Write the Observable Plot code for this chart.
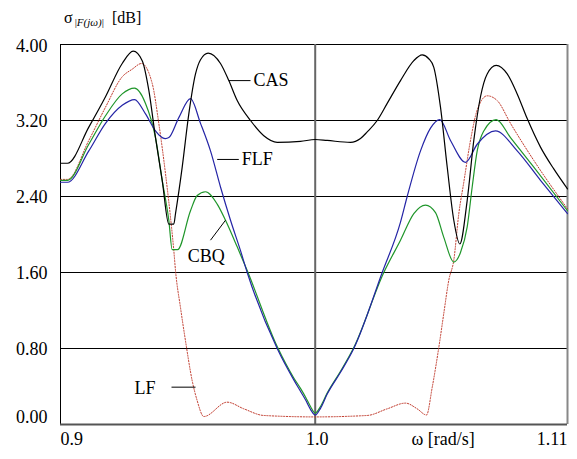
<!DOCTYPE html>
<html><head><meta charset="utf-8">
<script src="https://cdn.jsdelivr.net/npm/d3@7"></script>
<script src="https://cdn.jsdelivr.net/npm/@observablehq/plot@0.6"></script>
<style>
body{margin:0;background:#fff}
#wrap{position:relative;width:577px;height:459px;font-family:"Liberation Serif","Times New Roman","DejaVu Serif",serif}
#wrap svg, #wrap svg text{font-family:"Liberation Serif","Times New Roman","DejaVu Serif",serif !important}
#title{position:absolute;left:64px;top:10px;font-size:16px;white-space:nowrap;color:#000;z-index:2;line-height:1}
#title .sub{font-size:11px;position:relative;top:3px;margin-left:2px;margin-right:4px}
</style>
</head><body>
<div id="wrap"><div id="title">σ<span class="sub">|<i>F(jω)</i>|</span> [dB]</div></div>
<script>
// x: ω [rad/s] (log axis), y: σ|F(jω)| [dB]
const xDomain = [0.9, 1.11];
const yTicks = [0, 0.8, 1.6, 2.4, 3.2, 4.0];
const xTickVals = [0.9, 1.0, 1.11];
const xTickLabels = ["0.9", "1.0", "1.11"];

const CAS = [[0.9,2.75],[0.90261,2.75],[0.91060,3.13],[0.91691,3.45],[0.92327,3.80],[0.92748,3.93],[0.93094,3.83],[0.93348,3.52],[0.93607,3.02],[0.93867,2.57],[0.94124,2.11],[0.94319,2.11],[0.94385,2.22],[0.94647,2.71],[0.94906,3.27],[0.95169,3.69],[0.95366,3.84],[0.95670,3.91],[0.96158,3.80],[0.96489,3.62],[0.96825,3.41],[0.97359,3.20],[0.97896,3.04],[0.98440,2.97],[0.99393,2.98],[1.0,3.00],[1.00497,2.99],[1.01471,2.97],[1.01891,3.01],[1.02174,3.08],[1.02597,3.20],[1.03023,3.38],[1.03591,3.62],[1.04163,3.83],[1.04525,3.89],[1.04811,3.85],[1.05028,3.76],[1.05319,3.34],[1.05612,2.71],[1.05900,2.15],[1.06164,1.90],[1.06489,2.36],[1.06780,2.99],[1.07076,3.45],[1.07373,3.69],[1.07774,3.78],[1.08266,3.69],[1.08714,3.48],[1.09165,3.22],[1.09767,2.92],[1.10372,2.69],[1.11,2.48]];

const FLF = [[0.9,2.55],[0.90261,2.55],[0.91060,2.88],[0.91691,3.17],[0.92327,3.36],[0.92798,3.42],[0.93221,3.27],[0.93607,3.09],[0.93867,3.02],[0.93995,3.01],[0.94124,3.02],[0.94514,3.23],[0.94972,3.43],[0.95366,3.17],[0.95761,2.88],[0.96158,2.50],[0.96557,2.15],[0.96957,1.83],[0.97226,1.60],[0.98440,0.80],[0.99118,0.47],[0.99393,0.35],[0.99599,0.26],[0.99805,0.16],[1.0,0.10],[1.00219,0.17],[1.00497,0.32],[1.01052,0.55],[1.01609,0.80],[1.02810,1.60],[1.03591,2.13],[1.03878,2.40],[1.04452,2.88],[1.04885,3.12],[1.05289,3.21],[1.05756,2.99],[1.06414,2.76],[1.06930,2.95],[1.07742,3.09],[1.08714,2.88],[1.09767,2.57],[1.11,2.22]];

const CBQ = [[0.9,2.57],[0.90261,2.57],[0.91060,2.95],[0.91691,3.25],[0.92327,3.48],[0.92798,3.54],[0.93221,3.38],[0.93607,3.02],[0.93867,2.57],[0.94124,2.15],[0.94256,1.84],[0.94463,1.84],[0.94972,2.25],[0.95236,2.41],[0.95563,2.45],[0.96027,2.32],[0.96357,2.15],[0.96825,1.87],[0.97226,1.62],[0.98440,0.82],[0.99118,0.49],[0.99393,0.38],[0.99599,0.29],[0.99805,0.19],[1.0,0.12],[1.00219,0.19],[1.00497,0.33],[1.01052,0.56],[1.01609,0.81],[1.02878,1.60],[1.03591,1.94],[1.04163,2.22],[1.04668,2.31],[1.05102,2.23],[1.05463,1.97],[1.05900,1.71],[1.06194,1.81],[1.06489,2.08],[1.06709,2.50],[1.06930,2.88],[1.07223,3.09],[1.07774,3.21],[1.08413,3.02],[1.09463,2.71],[1.11,2.25]];

const LF = [[0.9,2.58],[0.90261,2.58],[0.91060,2.99],[0.91691,3.34],[0.92327,3.66],[0.92709,3.74],[0.93067,3.80],[0.93480,3.59],[0.93735,3.17],[0.93995,2.64],[0.94190,2.18],[0.94319,1.83],[0.94385,1.62],[0.94580,1.23],[0.94776,0.88],[0.95039,0.46],[0.95236,0.25],[0.95496,0.084],[0.96425,0.235],[0.97090,0.165],[0.97896,0.095],[1.0,0.08],[1.02174,0.095],[1.03023,0.165],[1.03806,0.225],[1.04309,0.165],[1.04711,0.10],[1.04958,0.39],[1.05245,0.81],[1.05463,1.17],[1.05682,1.52],[1.05900,1.73],[1.06120,2.22],[1.06339,2.55],[1.06634,2.99],[1.06930,3.31],[1.07373,3.46],[1.07818,3.41],[1.08413,3.17],[1.09463,2.78],[1.11,2.27]];

// curve labels and leader lines
const labelNames = ["CAS", "FLF", "CBQ", "LF"];
const labelAt = [[0.97359, 3.62], [0.96889, 2.79], [0.95595, 1.77], [0.93607, 0.38]];
const leaders = [[0.96489, 3.62, 0.97359, 3.62], [0.96027, 2.79, 0.96889, 2.79], [0.95761, 1.94, 0.96357, 2.15], [0.94229, 0.393, 0.95169, 0.393]];

const rows = a => a.map(([w, v]) => ({w, v}));
const F = "'Liberation Serif', 'Times New Roman', 'DejaVu Serif', serif";
const fs = 18;

const chart = Plot.plot({
  width: 577, height: 459,
  marginLeft: 60, marginRight: 10, marginTop: 44, marginBottom: 35,
  x: {type: "log", domain: xDomain, axis: null},
  y: {domain: [0, 4], axis: null},
  style: {fontFamily: F, fontSize: fs + "px", background: "#fff", color: "#000"},
  marks: [
    Plot.ruleY(yTicks.filter(d => d > 0), {stroke: "#000", strokeWidth: 1}),
    Plot.ruleX([xTickVals[1]], {stroke: "#666", strokeWidth: 2}),
    Plot.ruleX([xDomain[1]], {stroke: "#888", strokeWidth: 2}),
    Plot.ruleX([xDomain[0]], {stroke: "#000", strokeWidth: 1}),
    Plot.ruleY([0], {stroke: "#555", strokeWidth: 2}),
    Plot.line(rows(LF), {x: "w", y: "v", stroke: "#c0392b", strokeWidth: 1, strokeDasharray: "1.2,1.6", curve: "monotone-x"}),
    Plot.line(rows(CBQ), {x: "w", y: "v", stroke: "#1f962a", strokeWidth: 1.2, curve: "monotone-x"}),
    Plot.line(rows(FLF), {x: "w", y: "v", stroke: "#2424a6", strokeWidth: 1.2, curve: "monotone-x"}),
    Plot.line(rows(CAS), {x: "w", y: "v", stroke: "#000", strokeWidth: 1.2, curve: "monotone-x"}),
    Plot.link(leaders, {x1: d => d[0], y1: d => d[1], x2: d => d[2], y2: d => d[3], stroke: "#000", strokeWidth: 1}),
    Plot.text([0, 1], {x: i => labelAt[i][0], y: i => labelAt[i][1], text: i => labelNames[i], textAnchor: "start", dx: 3, fontSize: fs, fill: "#000"}),
    Plot.text([2], {x: i => labelAt[i][0], y: i => labelAt[i][1], text: i => labelNames[i], textAnchor: "middle", fontSize: fs, fill: "#000"}),
    Plot.text([3], {x: i => labelAt[i][0], y: i => labelAt[i][1], text: i => labelNames[i], textAnchor: "end", fontSize: fs, fill: "#000"}),
    // y tick labels
    Plot.text(yTicks.filter(d => d > 0 && d < 4), {y: d => d, frameAnchor: "left", textAnchor: "end", dx: -13, dy: 1, text: d => d.toFixed(2), fontSize: fs, fill: "#000"}),
    Plot.text([4], {y: d => d, frameAnchor: "left", textAnchor: "end", dx: -13, dy: 2, text: d => d.toFixed(2), fontSize: fs, fill: "#000"}),
    Plot.text([0], {y: d => d, frameAnchor: "left", textAnchor: "end", dx: -13, dy: -7, text: d => d.toFixed(2), fontSize: fs, fill: "#000"}),
    // x tick labels
    Plot.text([0], {x: i => xTickVals[i], frameAnchor: "bottom", dy: 20, textAnchor: "start", text: i => xTickLabels[i], fontSize: fs, fill: "#000"}),
    Plot.text([1], {x: i => xTickVals[i], frameAnchor: "bottom", dy: 20, dx: 2, textAnchor: "middle", text: i => xTickLabels[i], fontSize: fs, fill: "#000"}),
    Plot.text([2], {x: () => xDomain[1], frameAnchor: "bottom", dy: 20, textAnchor: "end", text: i => xTickLabels[i], fontSize: fs, fill: "#000"}),
    Plot.text(["ω [rad/s]"], {x: () => 1.04064, frameAnchor: "bottom", dy: 20, textAnchor: "start", text: d => d, fontSize: fs, fill: "#000"})
  ]
});
document.getElementById("wrap").prepend(chart);
</script>
</body></html>
